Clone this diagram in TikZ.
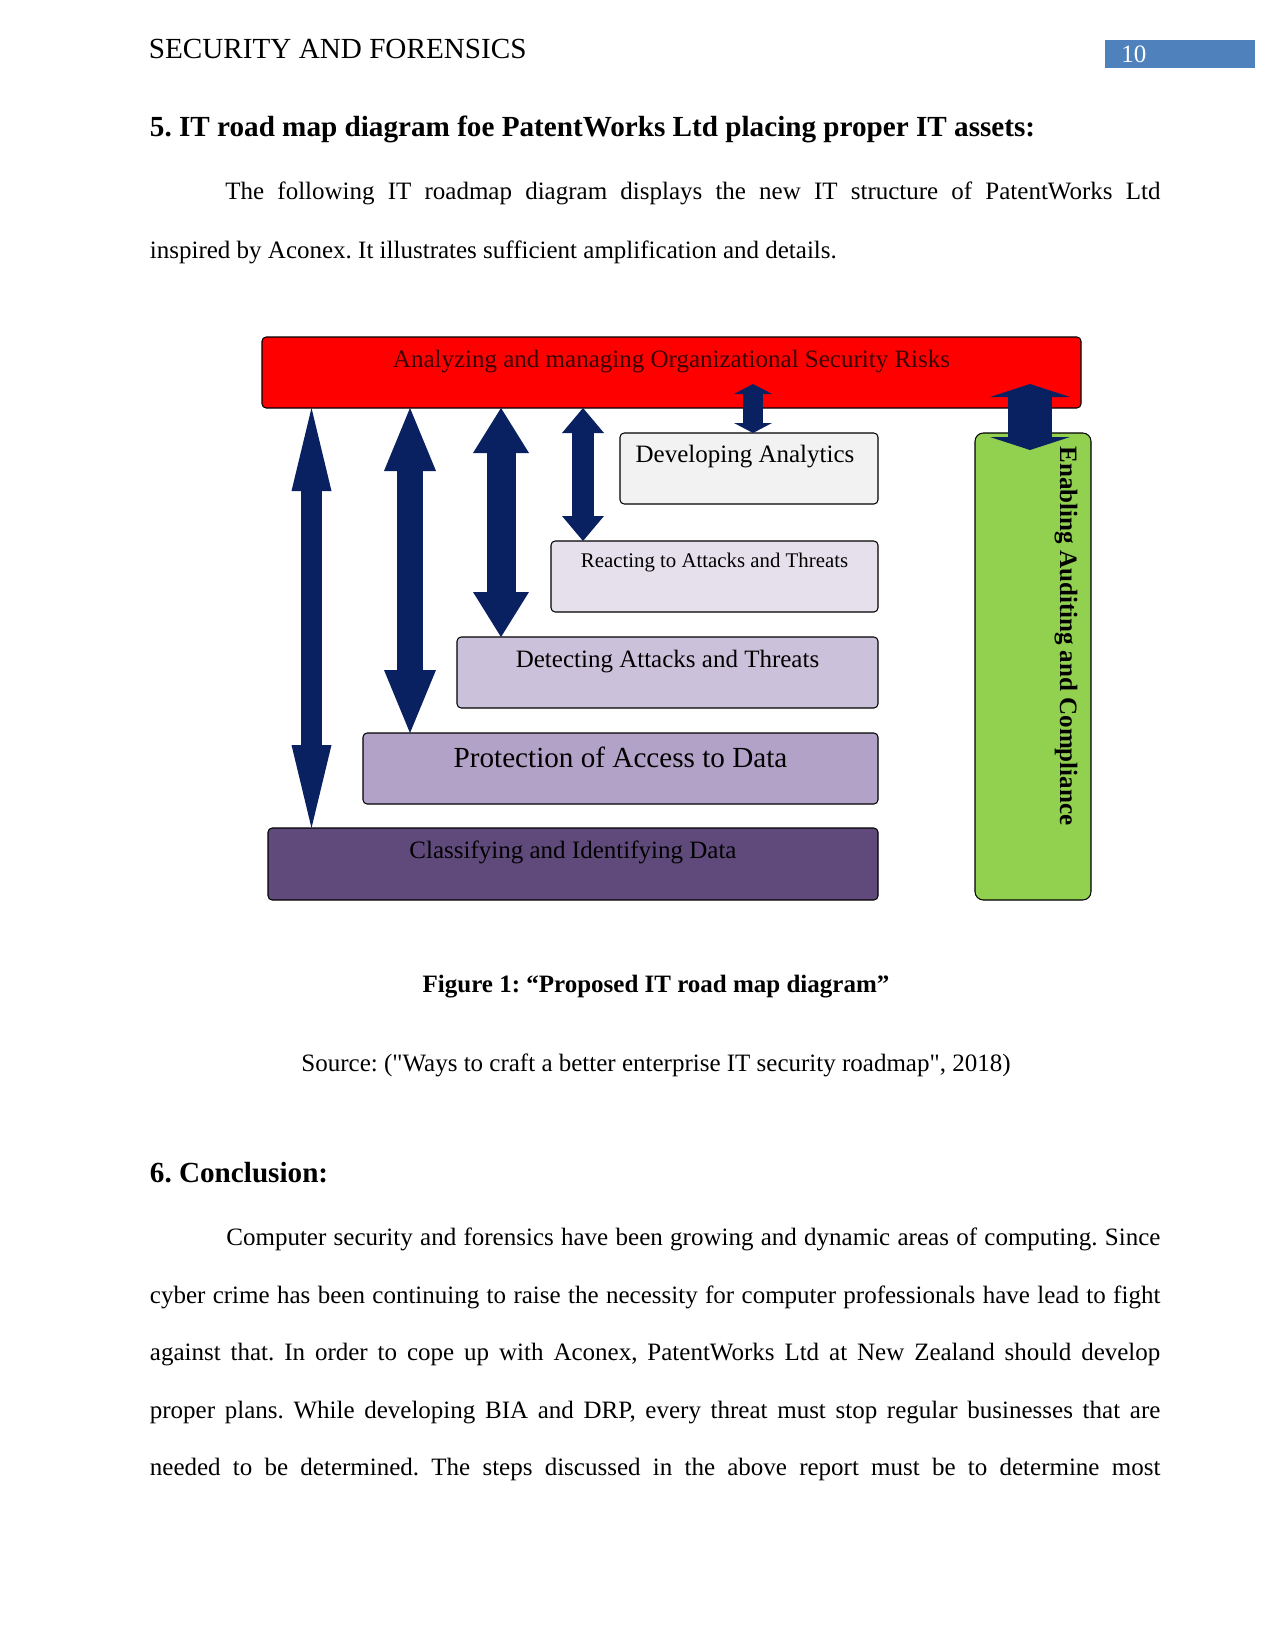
\documentclass[tikz,border=0pt]{standalone}
\usepackage{fontspec}
\setmainfont{Liberation Serif}
\usetikzlibrary{arrows.meta}
\definecolor{navy}{HTML}{0A2161}
\definecolor{pnblue}{HTML}{4F81BD}
\definecolor{riskred}{HTML}{FF0000}
\definecolor{riskink}{HTML}{3A0000}
\definecolor{devfill}{HTML}{F2F2F2}
\definecolor{reafill}{HTML}{E5E0EC}
\definecolor{detfill}{HTML}{CCC1DA}
\definecolor{profill}{HTML}{B3A2C7}
\definecolor{clsfill}{HTML}{604A7B}
\definecolor{grnfill}{HTML}{92D050}
\frenchspacing
\begin{document}
\begin{tikzpicture}[x=0.48pt,y=-0.48pt,
  box/.style={draw=black, line width=0.5pt, rounded corners=2pt, inner sep=0pt, outer sep=0pt, anchor=north west},
  lbl/.style={anchor=base, inner sep=0pt, font=\fontsize{12}{14}\selectfont},
  txt/.style={anchor=base west, inner sep=0pt, font=\fontsize{12}{14}\selectfont},
  dbl/.style={draw=navy, line cap=butt}]
\useasboundingbox[fill=white] (0,0) rectangle (1275,1651);

% header
\node[txt, font=\fontsize{14}{16}\selectfont] (hdr) at (148.5,59) {SECURITY AND FORENSICS};
\node[fill=pnblue, inner sep=0pt, anchor=north west, minimum width=150*0.48pt, minimum height=28*0.48pt] (pn) at (1105,40) {};
\node[txt, text=white] (pnum) at (1121,63) {10};

% heading and paragraph
\node[txt, font=\bfseries\fontsize{14}{16}\selectfont] (h5) at (149.5,137) {5. IT road map diagram foe PatentWorks Ltd placing proper IT assets:};
\node[txt] (p1) at (225,200) {\makebox[448.8pt][s]{The following IT roadmap diagram displays the new IT structure of PatentWorks Ltd}};
\node[txt] (p2) at (149.5,258) {inspired by Aconex. It illustrates sufficient amplification and details.};

% diagram boxes
\node[box, fill=riskred, minimum width=819*0.48pt, minimum height=71*0.48pt] (red) at (262,337) {};
\node[box, fill=devfill, minimum width=258*0.48pt, minimum height=71*0.48pt] (dev) at (620,433) {};
\node[box, fill=reafill, minimum width=327*0.48pt, minimum height=71*0.48pt] (rea) at (551,541) {};
\node[box, fill=detfill, minimum width=421*0.48pt, minimum height=71*0.48pt] (det) at (457,637) {};
\node[box, fill=profill, minimum width=515*0.48pt, minimum height=71*0.48pt] (pro) at (363,733) {};
\node[box, fill=clsfill, minimum width=610*0.48pt, minimum height=72*0.48pt] (cls) at (268,828) {};
\node[box, fill=grnfill, rounded corners=4pt, minimum width=116*0.48pt, minimum height=467*0.48pt] (grn) at (975,433) {};

% box labels
\node[lbl, text=riskink] at ([yshift=-30*0.48pt]red.north) {Analyzing and managing Organizational Security Risks};
\node[lbl] at ([xshift=-4*0.48pt,yshift=-29*0.48pt]dev.north) {Developing Analytics};
\node[lbl, font=\fontsize{10}{12}\selectfont] at ([yshift=-26*0.48pt]rea.north) {Reacting to Attacks and Threats};
\node[lbl] at ([yshift=-30*0.48pt]det.north) {Detecting Attacks and Threats};
\node[lbl, font=\fontsize{14}{16}\selectfont] at ([yshift=-34*0.48pt]pro.north) {Protection of Access to Data};
\node[lbl] at ([yshift=-30*0.48pt]cls.north) {Classifying and Identifying Data};
\node[rotate=-90, inner sep=0pt, font=\bfseries\fontsize{12}{14}\selectfont] at (1066,636) {Enabling Auditing and Compliance};

% arrows
\coordinate (c1) at (311.5,0);
\coordinate (c2) at (410,0);
\coordinate (c3) at (501,0);
\coordinate (c4) at (583,0);
\coordinate (c5) at (753,384);
\coordinate (c6) at (1030,384);
\coordinate (c6b) at (1030,450);
\draw[dbl, line width=10.08pt, {Triangle[width=19.2pt,length=39.84pt,line width=0pt]}-{Triangle[width=19.2pt,length=39.84pt,line width=0pt]}] (c1 |- red.south) -- (c1 |- cls.north);
\draw[dbl, line width=12.48pt, {Triangle[width=24.96pt,length=30.24pt,line width=0pt]}-{Triangle[width=24.96pt,length=30.24pt,line width=0pt]}] (c2 |- red.south) -- (c2 |- pro.north);
\draw[dbl, line width=13.92pt, {Triangle[width=26.88pt,length=21.6pt,line width=0pt]}-{Triangle[width=26.88pt,length=21.6pt,line width=0pt]}] (c3 |- red.south) -- (c3 |- det.north);
\draw[dbl, line width=10.56pt, {Triangle[width=20.16pt,length=12pt,line width=0pt]}-{Triangle[width=20.16pt,length=12pt,line width=0pt]}] (c4 |- red.south) -- (c4 |- rea.north);
\draw[dbl, line width=9.6pt, {Triangle[width=18.24pt,length=4.8pt,line width=0pt]}-{Triangle[width=18.24pt,length=4.8pt,line width=0pt]}] (c5) -- (c5 |- dev.north);
\draw[dbl, line width=21.12pt, {Triangle[width=38.4pt,length=6.24pt,line width=0pt]}-{Triangle[width=38.4pt,length=6.24pt,line width=0pt]}] (c6) -- (c6b);

% caption and source
\node[lbl, font=\bfseries\fontsize{12}{14}\selectfont] (cap) at (656,992) {Figure 1: “Proposed IT road map diagram”};
\node[lbl] (src) at (656,1071) {Source: (\textquotedbl Ways to craft a better enterprise IT security roadmap\textquotedbl, 2018)};

% conclusion
\node[txt, font=\bfseries\fontsize{14}{16}\selectfont] (h6) at (149.5,1182) {6. Conclusion:};
\node[txt] (q1) at (226,1245) {\makebox[448.3pt][s]{Computer security and forensics have been growing and dynamic areas of computing. Since}};
\node[txt] (q2) at (149.5,1303) {\makebox[485pt][s]{cyber crime has been continuing to raise the necessity for computer professionals have lead to fight}};
\node[txt] (q3) at (149.5,1360) {\makebox[485pt][s]{against that. In order to cope up with Aconex, PatentWorks Ltd at New Zealand should develop}};
\node[txt] (q4) at (149.5,1418) {\makebox[485pt][s]{proper plans. While developing BIA and DRP, every threat must stop regular businesses that are}};
\node[txt] (q5) at (149.5,1475) {\makebox[485pt][s]{needed to be determined. The steps discussed in the above report must be to determine most}};
\end{tikzpicture}
\end{document}
